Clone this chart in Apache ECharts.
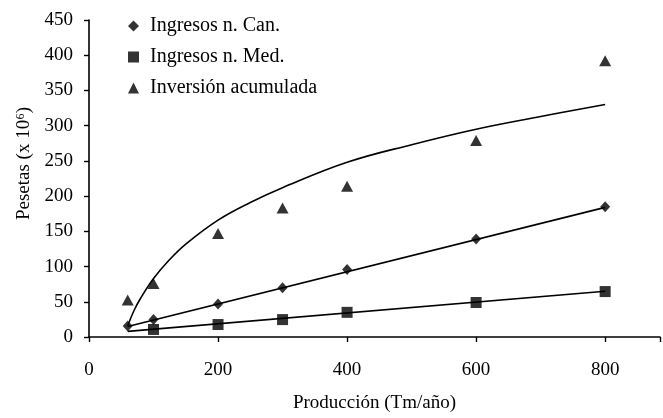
<!DOCTYPE html>
<html>
<head>
<meta charset="utf-8">
<script src="https://cdn.jsdelivr.net/npm/echarts@6/dist/echarts.min.js"></script>
<style>
html,body{margin:0;padding:0;background:#fff;}
#chart{width:663px;height:418px;}
</style>
</head>
<body>
<div id="chart"></div>
<script>
// Data
const canPoints = [[60,15.5],[100,24.8],[200,46.8],[300,70],[400,95.8],[600,139],[800,185]];
const medPoints = [[100,10.7],[200,17.7],[300,24.7],[400,35],[600,49],[800,64.5]];
const invPoints = [[60,52.7],[100,76],[200,147],[300,183],[400,214],[600,279],[800,392]];
// Fitted trend lines as drawn in the reference
const canFit = [[60,15],[800,184]];
const medFit = [[60,8],[800,65]];
const invFit = [[60,16],[70,38],[80,55],[100,83],[125,110],[150,132],[200,166],[250,191],[300,212],[400,248],[500,273],[600,295],[700,313],[800,330]];
const xTicks = [0,200,400,600,800];
const yTicks = [0,50,100,150,200,250,300,350,400,450];
const names = ['Ingresos n. Can.','Ingresos n. Med.','Inversión acumulada'];

const FONT = 'Liberation Serif';
const chart = echarts.init(document.getElementById('chart'));
const lineStyle = {color:'#000', width:1.6};
chart.setOption({
  animation:false,
  backgroundColor:'#fff',
  textStyle:{fontFamily:FONT, color:'#000'},
  grid:{left:89, top:20, right:2, bottom:74},
  legend:{
    orient:'vertical', left:123, top:11, itemGap:11,
    itemWidth:11, itemHeight:11,
    textStyle:{fontFamily:FONT, fontSize:20, color:'#000', padding:[0,0,0,6]},
    data:[
      {name:names[0], icon:'diamond'},
      {name:names[1], icon:'rect'},
      {name:names[2], icon:'triangle'}
    ]
  },
  xAxis:{
    type:'value', min:0, max:885, interval:200,
    name:'Producción (Tm/año)', nameLocation:'middle', nameGap:57,
    nameTextStyle:{fontFamily:FONT, fontSize:19, color:'#000'},
    axisLine:{show:true, lineStyle:{color:'#000', width:1.6}},
    axisTick:{show:true, inside:false, length:5, lineStyle:{color:'#000', width:1.4}},
    axisLabel:{margin:24, fontFamily:FONT, fontSize:19, color:'#000',
      formatter:v => xTicks.indexOf(v) >= 0 ? String(v) : ''},
    splitLine:{show:false}
  },
  yAxis:{
    type:'value', min:0, max:450, interval:50,
    name:'Pesetas (x 10⁶)', nameLocation:'middle', nameGap:55,
    nameTextStyle:{fontFamily:FONT, fontSize:19, color:'#000', padding:[0,0,0,30]},
    axisLine:{show:true, lineStyle:{color:'#000', width:1.6}},
    axisTick:{show:true, inside:false, length:5, lineStyle:{color:'#000', width:1.4}},
    axisLabel:{margin:16, fontFamily:FONT, fontSize:19, color:'#000',
      formatter:v => yTicks.indexOf(v) >= 0 ? String(v) : ''},
    splitLine:{show:false}
  },
  series:[
    {name:'canFit', type:'line', data:canFit, symbol:'none', lineStyle:lineStyle, z:2, silent:true},
    {name:'medFit', type:'line', data:medFit, symbol:'none', lineStyle:lineStyle, z:2, silent:true},
    {name:'invFit', type:'line', data:invFit, symbol:'none', smooth:0.4, lineStyle:lineStyle, z:2, silent:true},
    {name:names[0], type:'scatter', data:canPoints, symbol:'diamond', symbolSize:[10,11], itemStyle:{color:'#000'}, z:3},
    {name:names[1], type:'scatter', data:medPoints, symbol:'rect', symbolSize:11, itemStyle:{color:'#000'}, z:3},
    {name:names[2], type:'scatter', data:invPoints, symbol:'triangle', symbolSize:[12,11], itemStyle:{color:'#000'}, z:3}
  ]
});
</script>
</body>
</html>
